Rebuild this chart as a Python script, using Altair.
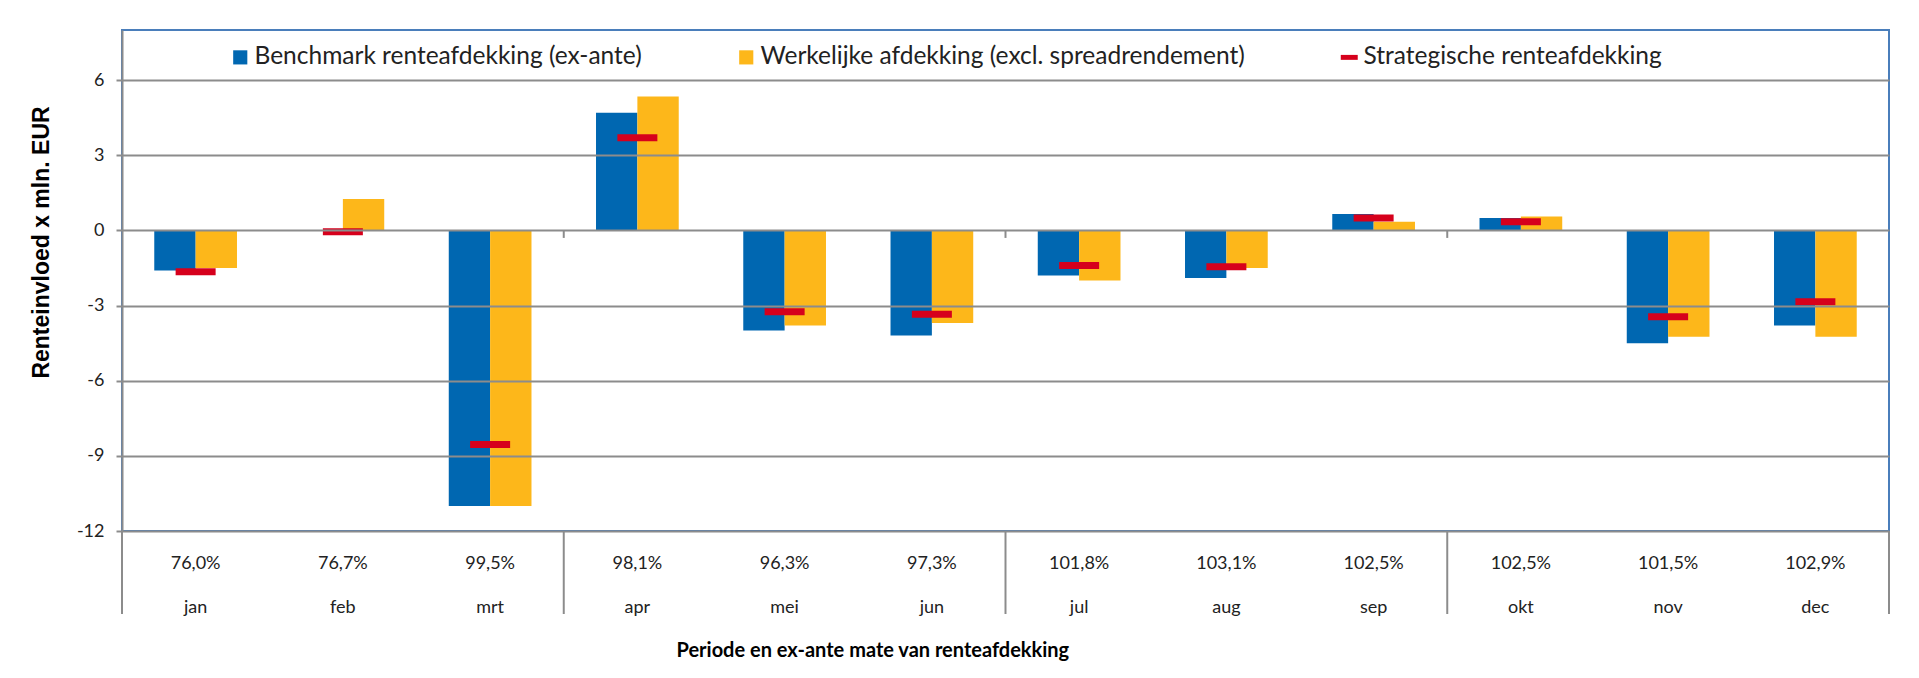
"""Renteinvloed per maand: benchmark, werkelijke en strategische renteafdekking."""
import altair as alt
import pandas as pd

months = ["jan", "feb", "mrt", "apr", "mei", "jun", "jul", "aug", "sep", "okt", "nov", "dec"]
hedge_pct = ["76,0%", "76,7%", "99,5%", "98,1%", "96,3%", "97,3%",
             "101,8%", "103,1%", "102,5%", "102,5%", "101,5%", "102,9%"]

benchmark = [-1.6, 0.0, -11.0, 4.7, -4.0, -4.2, -1.8, -1.9, 0.65, 0.5, -4.5, -3.8]
werkelijk = [-1.5, 1.25, -11.0, 5.35, -3.8, -3.7, -2.0, -1.5, 0.35, 0.55, -4.25, -4.25]
strategisch = [-1.65, -0.05, -8.55, 3.7, -3.25, -3.35, -1.4, -1.45, 0.5, 0.35, -3.45, -2.85]

series_names = [
    "Benchmark renteafdekking (ex-ante)",
    "Werkelijke afdekking (excl. spreadrendement)",
    "Strategische renteafdekking",
]
series_colors = ["#0067B1", "#FDB71A", "#D6001C"]

# categorie = "percentage|maand", wordt in de as over twee regels gesplitst
cats = [f"{p}|{m}" for p, m in zip(hedge_pct, months)]
quarter_starts = [cats[i] for i in (0, 3, 6, 9)]

df_bars = pd.DataFrame({
    "cat": cats * 2,
    "series": [series_names[0]] * 12 + [series_names[1]] * 12,
    "value": benchmark + werkelijk,
})
df_strat = pd.DataFrame({"cat": cats, "series": series_names[2], "value": strategisch})

GRID = "#8C8C8C"

x_axis = alt.Axis(
    title="Periode en ex-ante mate van renteafdekking",
    labelExpr="split(datum.value, '|')",
    labelAngle=0,
    labelOverlap=False,
    labelFont="Lato",
    labelFontSize=18,
    labelColor="#222222",
    labelLineHeight=44,
    labelPadding=23,
    labelBaseline="top",
    ticks=False,
    domain=False,
    titleFont="Lato",
    titleFontSize=20,
    titleFontWeight="bold",
    titleColor="#000000",
    titleAlign="left",
    titleBaseline="middle",
    titleX=554,
    titleY=119,
)
x_scale = alt.Scale(paddingInner=0, paddingOuter=0)


def x_enc(band=0.5):
    return alt.X("cat:N", sort=cats, scale=x_scale, axis=x_axis, bandPosition=band)


y_enc = alt.Y(
    "value:Q",
    scale=alt.Scale(domain=[-12, 8], nice=False),
    axis=alt.Axis(
        values=[-12, -9, -6, -3, 0, 3, 6],
        labelExpr="'' + datum.value",
        title="Renteinvloed x mln. EUR",
        grid=True,
        gridColor=GRID,
        gridWidth=2,
        domainColor=GRID,
        domainWidth=2,
        tickColor=GRID,
        tickWidth=2,
        tickSize=6,
        labelFont="Lato",
        labelFontSize=18,
        labelColor="#222222",
        labelPadding=12,
        titleFont="Liberation Sans",
        titleFontSize=23,
        titleFontWeight="bold",
        titleColor="#000000",
        titleAngle=270,
        titleAlign="center",
        titleBaseline="middle",
        titleX=-81,
        titleY=212,
        zindex=1,
    ),
)

color_scale = alt.Scale(domain=series_names, range=series_colors)
legend = alt.Legend(
    title=None,
    orient="none",
    legendX=106,
    legendY=15,
    direction="horizontal",
    symbolSize=200,
    symbolStrokeWidth=0,
    symbolOpacity=1,
    labelFont="Lato",
    labelFontSize=24.5,
    labelColor="#222222",
    labelLimit=0,
    labelOffset=2,
    columnPadding=92,
    padding=0,
)
color_enc = alt.Color("series:N", scale=color_scale, legend=legend)

bars = alt.Chart(df_bars).mark_bar().encode(
    x=x_enc(),
    xOffset=alt.XOffset(
        "series:N",
        scale=alt.Scale(domain=series_names[:2], paddingInner=0, paddingOuter=0.78),
    ),
    y=y_enc,
    color=color_enc,
)

strat = alt.Chart(df_strat).mark_tick(thickness=7, size=40, opacity=1).encode(
    x=x_enc(),
    y=y_enc,
    color=color_enc,
)

# legendalaag zonder marks: vierkantjes voor balken, streepje voor strategisch
legend_layer = alt.Chart(df_strat).transform_filter("false").mark_point(filled=True, opacity=1).encode(
    color=color_enc,
    shape=alt.Shape(
        "series:N",
        scale=alt.Scale(domain=series_names, range=["square", "square", "M-1.2,-0.35H1.2V0.35H-1.2Z"]),
        legend=legend,
    ),
)

# scheidingslijnen per kwartaal onder de as en kleine streepjes op de nullijn
df_q = pd.DataFrame({"cat": quarter_starts})
sep_low = alt.Chart(df_q).mark_rule(color=GRID, strokeWidth=2).encode(
    x=x_enc(0), y=alt.value(501), y2=alt.value(584)
)
sep_end = alt.Chart(pd.DataFrame({"cat": cats[-1:]})).mark_rule(color=GRID, strokeWidth=2).encode(
    x=x_enc(1), y=alt.value(501), y2=alt.value(584)
)
zero_ticks = alt.Chart(pd.DataFrame({"cat": quarter_starts[1:]})).mark_rule(color=GRID, strokeWidth=2).encode(
    x=x_enc(0), y=alt.datum(0), y2=alt.datum(-0.3)
)

chart = (
    alt.layer(bars, strat, zero_ticks, sep_low, sep_end, legend_layer)
    .properties(
        width=1767,
        height=501,
        autosize=alt.AutoSizeParams(type="none"),
        padding={"left": 114, "top": 22, "right": 10, "bottom": 140},
        background="white",
    )
    .configure_view(stroke="#4A7EBB", strokeWidth=2)
)

chart.save("out.html", embed_options={"renderer": "svg", "actions": False})
